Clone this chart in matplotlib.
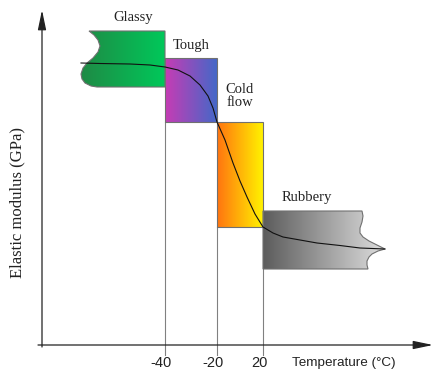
import numpy as np
import matplotlib
matplotlib.use("Agg")
import matplotlib.pyplot as plt
from matplotlib.patches import Polygon
from matplotlib.colors import LinearSegmentedColormap

# schematic chart units (x: position along temperature axis, y: modulus)
tick_pos = [165, 217, 263]
tick_labels = ["-40", "-20", "20"]

# modulus curve
curve_x = [81, 100, 130, 150, 165, 178, 190, 200, 208, 213, 217, 225, 233, 240,
           247, 255, 263, 273, 283, 300, 317, 340, 360, 385]
curve_y = [309, 308.5, 308, 307, 305, 302, 296, 287, 276, 264, 250, 232, 209, 191,
           175, 158, 145, 139, 135, 132, 129, 126.5, 124, 123]

# regions: outline, gradient colours, label, label position
glassy_outline = [(89, 341), (165, 341), (165, 285), (97, 285), (91, 286), (85, 289),
                  (82, 293), (81, 298), (83, 304), (87, 309), (93, 314), (98, 320),
                  (100, 326), (98, 332), (94, 337)]
tough_outline = [(165, 314), (217, 314), (217, 250), (165, 250)]
coldflow_outline = [(217, 250), (263, 250), (263, 145), (217, 145)]
rubbery_outline = [(263, 161), (362, 161), (363, 156), (362, 150), (360, 144),
                   (360, 139), (363, 135), (369, 131), (377, 127), (385, 123),
                   (378, 121), (372, 118), (369, 115), (367, 111), (367, 107),
                   (368, 103), (263, 103)]

regions = [
    ("Glassy", glassy_outline, ("#1f8a45", "#00c85a"), (133, 355)),
    ("Tough", tough_outline, ("#c73cb4", "#4468c8"), (191, 327)),
    ("Cold\nflow", coldflow_outline, ("#ff7410", "#fff200"), (240, 276)),
    ("Rubbery", rubbery_outline, ("#5c5c5c", "#dedede"), (307, 175)),
]

fig = plt.figure(figsize=(4.34, 3.72), dpi=100)
ax = fig.add_axes([0, 0, 1, 1])
ax.axis("off")

serif = "Liberation Serif"
sans = "Liberation Sans"

for label, outline, (c0, c1), (lx, ly) in regions:
    pts = np.array(outline)
    patch = Polygon(pts, closed=True, facecolor="none", edgecolor="#707070",
                    lw=0.8, zorder=3)
    ax.add_patch(patch)
    cmap = LinearSegmentedColormap.from_list(label, [c0, c1])
    grad = np.linspace(0, 1, 256).reshape(1, -1)
    im = ax.imshow(grad, cmap=cmap, aspect="auto", zorder=2,
                   extent=[pts[:, 0].min(), pts[:, 0].max(),
                           pts[:, 1].min(), pts[:, 1].max()])
    im.set_clip_path(patch)
    ax.text(lx, ly, label, ha="center", va="center", fontsize=10.5,
            family=serif, color="#222222", linespacing=1.0)

# guide lines from the boxes down past the axis
bottoms = [250, 145, 103]
for x, b in zip(tick_pos, bottoms):
    ax.plot([x, x], [b, 17], color="#808080", lw=0.8, zorder=1)

ax.plot(curve_x, curve_y, color="#111111", lw=0.8, zorder=4)

# axes with arrows
ax.annotate("", xy=(42, 362), xytext=(42, 25),
            arrowprops=dict(arrowstyle="-|>,head_length=1.2,head_width=0.25",
                            color="#222222", lw=0.9, shrinkA=0, shrinkB=0))
ax.annotate("", xy=(433, 27), xytext=(38, 27),
            arrowprops=dict(arrowstyle="-|>,head_length=1.2,head_width=0.25",
                            color="#222222", lw=0.9, shrinkA=0, shrinkB=0))

for x, t in zip(tick_pos, tick_labels):
    ax.text(x - 4, 9, t, ha="center", va="center", fontsize=10.5, family=sans,
            color="#222222")
ax.text(292, 9, "Temperature (°C)", ha="left", va="center", fontsize=9.7,
        family=sans, color="#222222")
ax.text(17, 170, "Elastic modulus (GPa)", ha="center", va="center",
        rotation=90, fontsize=12, family=serif, color="#222222")

ax.set_xlim(0, 434)
ax.set_ylim(0, 372)
fig.savefig("out.png", dpi=100)
